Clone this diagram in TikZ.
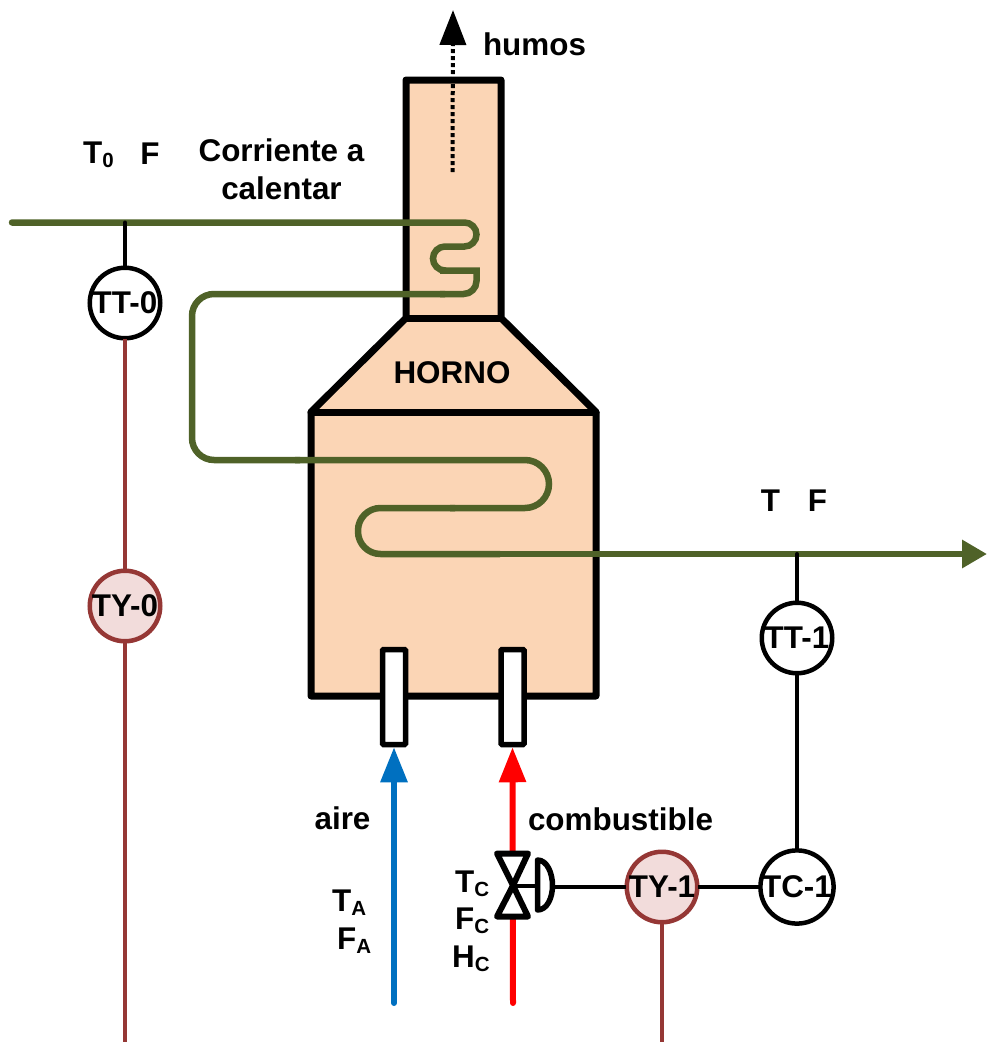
\documentclass[tikz,border=0pt]{standalone}
\usepackage{fontspec}
\setmainfont{Liberation Sans}
\usetikzlibrary{arrows.meta}
\definecolor{furn}{HTML}{FBD5B5}
\definecolor{pipe}{HTML}{4F6228}
\definecolor{brownl}{HTML}{953735}
\definecolor{tyfill}{HTML}{F2DCDB}
\definecolor{air}{HTML}{0070C0}
\newcommand{\subx}[1]{\raisebox{-4pt}{\fontsize{20.5}{20}\selectfont #1}}
\tikzset{
  x=1pt,y=-1pt,
  every node/.style={font=\fontsize{31.4}{38}\selectfont\bfseries},
  inst/.style={circle,draw=black,line width=4.5pt,fill=white,minimum size=70.5pt,inner sep=0pt,outer sep=1pt},
  conv/.style={circle,draw=brownl,line width=4.5pt,fill=tyfill,minimum size=70.5pt,inner sep=0pt,outer sep=1pt},
  burner/.style={rectangle,draw=black,line width=5.5pt,fill=white,minimum width=23pt,minimum height=95pt,inner sep=0pt,rounded corners=1pt},
  lbl/.style={inner sep=0pt,align=center},
  sig/.style={line width=4pt,draw=black},
  bsig/.style={line width=4pt,draw=brownl},
  pipeline/.style={line width=6.5pt,draw=pipe,line join=miter},
  feed/.style={line width=6pt,line cap=round,-{Triangle[length=35pt,width=26pt]}},
}
\begin{document}
\begin{tikzpicture}
\useasboundingbox (0,0) rectangle (987,1042);
% furnace
\draw[line width=7pt,fill=furn,line join=round] (406,80) -- (501,80) -- (501,318) -- (596,412) -- (596,696) -- (311,696) -- (311,412) -- (406,318) -- cycle;
\draw[line width=7pt,line cap=round] (406,318) -- (501,318);
\draw[line width=7pt,line cap=round] (311,412) -- (596,412);
% burners
\node[burner] (bair) at (394,697) {};
\node[burner] (bfuel) at (512.5,697) {};
% free ends
\coordinate (pipeIn) at (12,222.5);
\coordinate (pipeOut) at (987,554);
\coordinate (smokeA) at (452.5,172);
\coordinate (smokeB) at (453,10);
\coordinate (airIn) at (394,1003);
\coordinate (fuelIn) at (513,1003);
\coordinate (tap0) at (125,222.5);
\coordinate (tap1) at (797,554);
\coordinate (b0) at (125,1042);
\coordinate (b1) at (662,1042);
\coordinate (valve) at (513,885.5);
\coordinate (act) at (553,887);
% pipe
\draw[pipeline,line cap=round,rounded corners=12pt] (pipeIn) -- (476.5,222.5) -- (476.5,246.5) -- (433,246.5) -- (433,270.5) -- (445,270.5);
\draw[pipeline] (440,270.5) -- (476.5,270.5) -- (476.5,280) {[rounded corners=13pt] -- (476.5,294) -- (440,294)};
\draw[pipeline,rounded corners=22pt] (445,294) -- (192,294) -- (192,460) -- (300,460);
\draw[pipeline,rounded corners=24pt] (295,460) -- (549,460) -- (549,508) -- (450,508);
\draw[pipeline,rounded corners=22.5pt] (455,508) -- (358,508) -- (358,554) -- (500,554);
\draw[pipeline,-{Triangle[length=25pt,width=27pt]}] (495,554) -- (pipeOut);
% smoke
\draw[line width=4pt,dash pattern=on 4pt off 3pt,-{Triangle[length=35pt,width=26pt]}] (smokeA) -- (smokeB);
% instruments
\node[inst] (TT0) at (125,303) {TT-0};
\node[conv] (TY0) at (125,606) {TY-0};
\node[inst] (TT1) at (797,638) {TT-1};
\node[inst] (TC1) at (797,887) {TC-1};
\node[conv] (TY1) at (662,887) {TY-1};
\draw[sig,line cap=round] (tap0) -- (TT0);
\draw[sig,line cap=round] (tap1) -- (TT1);
\draw[sig] (TT1) -- (TC1);
\draw[sig] (TC1) -- (TY1);
\draw[sig] (TY1) -- (act);
\draw[bsig] (TT0) -- (TY0);
\draw[bsig] (TY0) -- (b0);
\draw[bsig] (TY1) -- (b1);
% feeds
\draw[feed,draw=air,air] (airIn) -- (bair.south);
\draw[feed,draw=red,red] (fuelIn) -- (bfuel.south);
% valve
\draw[line width=6pt,line join=round,fill=white] (497,853.5) -- (528,853.5) -- (513,885.5) -- cycle;
\draw[line width=6pt,line join=round,fill=white] (497,916.5) -- (528,916.5) -- (513,885.5) -- cycle;
\draw[line width=4pt] (valve) -- (538,885.5);
\draw[line width=5.5pt,line join=round,fill=white] (537.5,860) .. controls (547,860) and (552.5,873) .. (552.5,885.5) .. controls (552.5,898) and (547,910) .. (537.5,910) -- cycle;
% labels
\node[lbl] (humos) at (534.5,44) {humos};
\node[lbl] (corr) at (281.5,169.5) {Corriente a\\calentar};
\node[lbl,anchor=west] (T0) at (83,155) {T\subx{0}};
\node[lbl] (F0) at (150,154) {F};
\node[lbl] (horno) at (452,373) {HORNO};
\node[lbl] (T1) at (770.5,501) {T};
\node[lbl] (F1) at (817.5,501) {F};
\node[lbl] (aire) at (342.5,818) {aire};
\node[lbl] (comb) at (620.5,819) {combustible};
\node[lbl,anchor=west] (TA) at (332,903) {T\subx{A}};
\node[lbl,anchor=west] (FA) at (337,941) {F\subx{A}};
\node[lbl,anchor=west] (TC) at (455,884) {T\subx{C}};
\node[lbl,anchor=west] (FC) at (455,921) {F\subx{C}};
\node[lbl,anchor=west] (HC) at (452,959) {H\subx{C}};
\end{tikzpicture}
\end{document}
